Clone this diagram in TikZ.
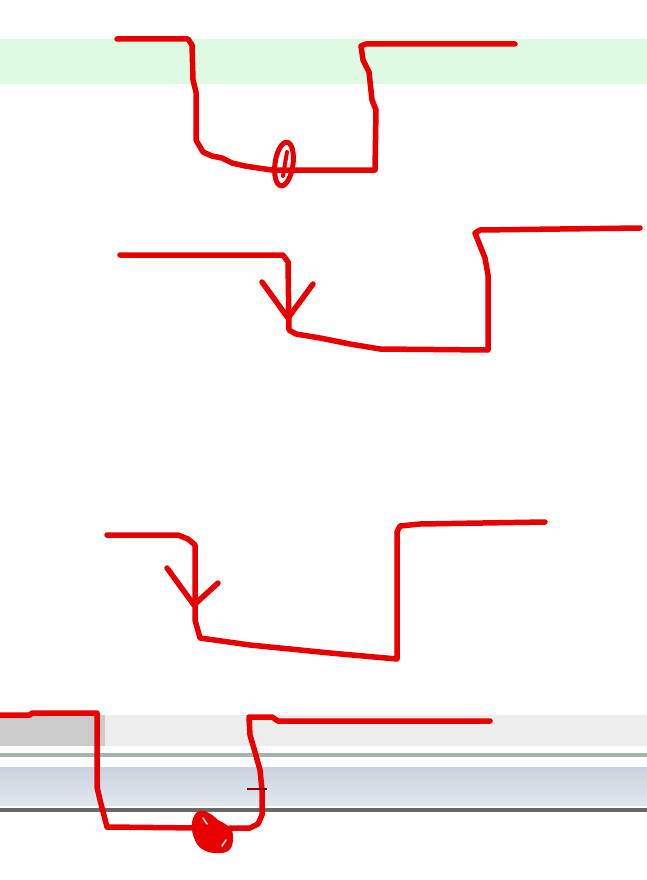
\documentclass[tikz,border=0pt]{standalone}
\definecolor{ink}{RGB}{232,0,0}
\definecolor{mint}{RGB}{222,250,227}
\definecolor{barlight}{RGB}{237,237,237}
\definecolor{bardark}{RGB}{203,203,203}
\definecolor{rule}{RGB}{165,180,170}
\definecolor{panel}{RGB}{206,216,228}
\definecolor{edge}{RGB}{105,105,105}
\begin{document}
\begin{tikzpicture}[x=1pt, y=-1pt,
  pen/.style={ink, line width=5.5pt, line join=round, line cap=round},
  thinpen/.style={ink, line width=5pt, line join=round, line cap=round}]
\useasboundingbox (0,0) rectangle (647,880);
\fill[white] (0,0) rectangle (647,880);
\fill[mint] (0,39) rectangle (647,84);
\fill[barlight] (0,715) rectangle (647,746);
\fill[bardark] (0,715) rectangle (105,746);
\fill[rule] (0,753) rectangle (647,757);
\shade[top color=panel!85!black!20!panel, bottom color=panel!60!white] (0,767) rectangle (647,805);
\fill[edge] (0,808) rectangle (647,812);
\draw[pen] (117,39) -- (188,39) -- (192,45) -- (193,80) -- (196,92) -- (196,140) -- (203,152) -- (212,156) -- (222,158) -- (232,163) -- (245,166) -- (258,168) -- (272,170) -- (375,170) -- (376,110) -- (372,100) -- (369,72) -- (363,60) -- (361,46) -- (366,44) -- (515,44);
\draw[thinpen, rotate around={-8:(284,164)}] (284,164) ellipse (9 and 22);
\draw[ink, line width=4pt, line cap=round] (287,152) -- (283,176);
\draw[pen] (120,255) -- (283,255) -- (288,262) -- (289,330) -- (296,334) -- (320,338) -- (350,344) -- (380,349) -- (488,350) -- (488,275) -- (485,258) -- (479,243) -- (475,233) -- (480,230) -- (640,228);
\draw[pen] (262,282) -- (288,318) -- (313,284);
\draw[pen] (107,535) -- (178,535) -- (188,539) -- (195,545) -- (195,620) -- (200,638) -- (250,645) -- (330,653) -- (397,659) -- (397,532) -- (400,526) -- (420,524) -- (545,522);
\draw[pen] (167,568) -- (194,605) -- (218,583);
\draw[pen] (0,715) -- (30,715) -- (32,713) -- (97,713) -- (97,787) -- (100,800) -- (107,827) -- (200,828);
\draw[pen] (230,828) -- (250,828) -- (258,824) -- (262,815) -- (262,790) -- (260,770) -- (255,752) -- (250,735) -- (249,717) -- (272,717) -- (278,721) -- (490,721);
\draw[ink!60!black, line width=1.5pt] (247,789) -- (267,789);
\fill[ink] (196,813) .. controls (202,807) and (212,814) .. (218,820) .. controls (226,824) and (234,828) .. (233,838) .. controls (233,847) and (230,853) .. (220,853) .. controls (208,854) and (198,849) .. (195,840) .. controls (191,832) and (190,820) .. (196,813) -- cycle;
\draw[white, line width=1.5pt, line cap=round] (203,818) -- (207,824);
\draw[white, line width=1.5pt, line cap=round] (222,846) -- (226,840);
\end{tikzpicture}
\end{document}
